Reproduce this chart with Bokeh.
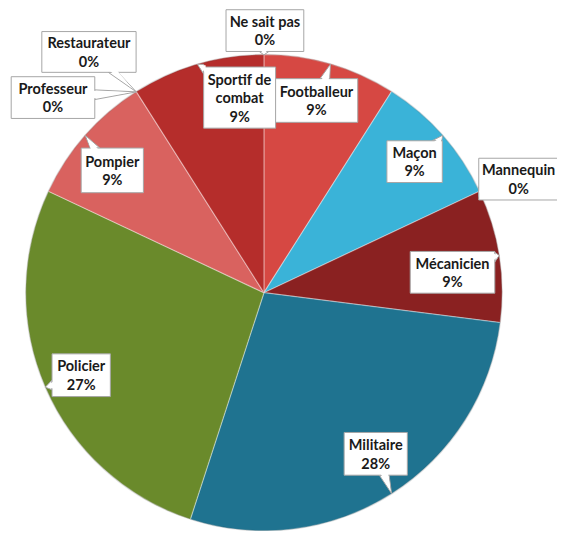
import numpy as np
from bokeh.plotting import figure
from bokeh.models import Range1d
from bokeh.core.properties import value
from bokeh.embed import file_html
from bokeh.resources import INLINE

# ---- data ----
categories = ["Ne sait pas", "Footballeur", "Maçon", "Mannequin", "Mécanicien",
              "Militaire", "Policier", "Pompier", "Professeur", "Restaurateur",
              "Sportif de combat"]
label_names = ["Ne sait pas", "Footballeur", "Maçon", "Mannequin", "Mécanicien",
               "Militaire", "Policier", "Pompier", "Professeur", "Restaurateur",
               "Sportif de\ncombat"]
percents = [0, 9, 9, 0, 9, 28, 27, 9, 0, 0, 9]
colors = ["#c0c0c0", "#d64843", "#3ab3d8", "#999999", "#8a2121",
          "#1f7390", "#6a8a2b", "#d9625f", "#aaaaaa", "#bbbbbb", "#b52d2b"]

# ---- layout (label box centres in reference pixels, box sizes) ----
box_cx = [272, 325, 426, 533, 465, 386, 83, 115, 54, 91, 246]
box_cy = [31, 103, 166, 184, 280, 467, 386, 175, 100, 53, 100]
box_w = [80, 85, 57, 82, 87, 65, 60, 64, 86, 97, 74]
box_h = [43, 45, 43, 43, 43, 44, 44, 46, 43, 42, 63]

PAGE_W, PAGE_H = 573, 547
cx, cy, R = 271, PAGE_H - 301, 245

p = figure(width=557, height=531, output_backend="svg", toolbar_location=None,
           x_range=Range1d(0, PAGE_W), y_range=Range1d(0, PAGE_H), min_border=0)
p.axis.visible = False
p.grid.visible = False
p.outline_line_color = None
p.background_fill_color = "white"

total = float(sum(percents))
cum = np.concatenate([[0], np.cumsum(percents)]) / total
starts = np.pi / 2 - 2 * np.pi * cum[:-1]
ends = np.pi / 2 - 2 * np.pi * cum[1:]

nz = [i for i, v in enumerate(percents) if v > 0]
p.wedge(x=[cx] * len(nz), y=[cy] * len(nz), radius=R,
        start_angle=[starts[i] for i in nz], end_angle=[ends[i] for i in nz],
        direction="clock", fill_color=[colors[i] for i in nz],
        line_color="white", line_alpha=0.35, line_width=1.2)

p.circle(x=[cx], y=[cy], radius=R, fill_color=None, line_color="#000000",
         line_alpha=0.12, line_width=1.5)

border = "#a6a6a6"
font = value("Lato")

for i, name in enumerate(label_names):
    m = (cum[i] + cum[i + 1]) / 2
    ang = np.pi / 2 - 2 * np.pi * m
    tx, ty = cx + R * np.cos(ang), cy + R * np.sin(ang)
    bx, by = box_cx[i], PAGE_H - box_cy[i]
    hw, hh = box_w[i] / 2, box_h[i] / 2
    dx, dy = tx - bx, ty - by
    tX = hw / abs(dx) if dx != 0 else 1e9
    tY = hh / abs(dy) if dy != 0 else 1e9
    t = min(tX, tY)
    px, py = bx + t * dx, by + t * dy
    if tX < tY:
        base = [(px, py - 5), (px, py + 5)]
        sx = -np.sign(dx) * 2
        inner = [(px + sx, py - 4), (px + sx, py + 4)]
    else:
        base = [(px - 5, py), (px + 5, py)]
        sy = -np.sign(dy) * 2
        inner = [(px - 4, py + sy), (px + 4, py + sy)]
    p.patch(x=[base[0][0], tx, base[1][0]], y=[base[0][1], ty, base[1][1]],
            fill_color="white", line_color=border, line_width=1)
    p.rect(x=[bx], y=[by], width=box_w[i], height=box_h[i],
           fill_color="white", line_color=border, line_width=1)
    ctx, cty = tx - (tx - px) * 0.15, ty - (ty - py) * 0.15
    p.patch(x=[inner[0][0], ctx, inner[1][0]], y=[inner[0][1], cty, inner[1][1]],
            fill_color="white", line_color=None)
    lines = name.split("\n") + [f"{percents[i]}%"]
    n = len(lines)
    lh = 19
    ys = [by + (n - 1) / 2 * lh - k * lh for k in range(n)]
    p.text(x=[bx] * n, y=ys, text=lines, text_font=font, text_font_style="bold",
           text_font_size="14.5px", text_align="center", text_baseline="middle",
           text_color="#1a1a1a")

open("out.html", "w").write(file_html(p, INLINE))
